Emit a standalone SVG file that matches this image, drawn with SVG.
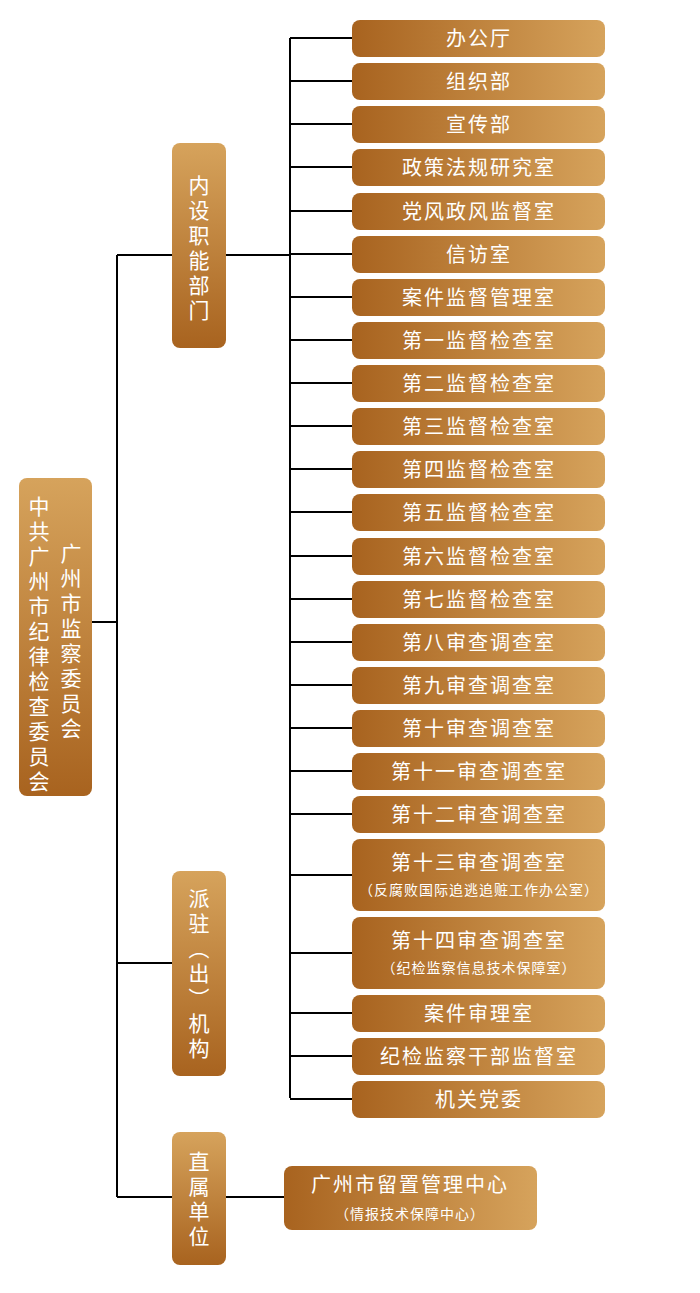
<svg xmlns="http://www.w3.org/2000/svg" width="700" height="1293" viewBox="0 0 700 1293">
<defs>
<linearGradient id="gh" x1="0" y1="0" x2="1" y2="0"><stop offset="0" stop-color="#a8631f"/><stop offset="1" stop-color="#d6a35c"/></linearGradient>
<linearGradient id="gv" x1="0" y1="0" x2="0" y2="1"><stop offset="0" stop-color="#d6a35c"/><stop offset="1" stop-color="#a8631f"/></linearGradient>
<style>
.h{fill:url(#gh)}.v{fill:url(#gv)}
text{fill:#fff;font-family:"Noto Sans CJK SC",sans-serif;text-anchor:middle}
.t{font-size:20px;letter-spacing:2px}
.s{font-size:14px;letter-spacing:1px}
.vt{font-size:21px;writing-mode:vertical-rl;letter-spacing:4px;text-anchor:start}
.c{stroke:#000;stroke-width:2;fill:none}
</style>
</defs>
<g id="connectors" class="c">
<path d="M92 622H117M117 255V1197M117 255H172M117 963H172M117 1197H172M226 255H290M226 1197H284"/>
<path d="M290 38V1098M290 38H352M290 81H352M290 124H352M290 167H352M290 211H352M290 254H352M290 297H352M290 340H352M290 383H352M290 426H352M290 469H352M290 512H352M290 556H352M290 599H352M290 642H352M290 685H352M290 728H352M290 771H352M290 814H352M290 875H352M290 953H352M290 1013H352M290 1056H352M290 1099H352"/>
</g>
<g id="root"><rect class="v" x="19" y="478" width="73" height="318" rx="8"/>
<text class="vt" x="39" y="496">中共广州市纪律检查委员会</text><text class="vt" x="71" y="543">广州市监察委员会</text></g>
<g id="n-neishe"><rect class="v" x="172" y="143" width="54" height="205" rx="8"/><text class="vt" x="199" y="175">内设职能部门</text></g>
<g id="n-paizhu"><rect class="v" x="172" y="871" width="54" height="205" rx="8"/><text class="vt" x="199" y="888">派驻（出）机构</text></g>
<g id="n-zhishu"><rect class="v" x="172" y="1132" width="54" height="133" rx="8"/><text class="vt" x="199" y="1151">直属单位</text></g>
<g id="r1"><rect class="h" x="352" y="20" width="253" height="37" rx="8"/><text class="t" x="479" y="46">办公厅</text></g>
<g id="r2"><rect class="h" x="352" y="63" width="253" height="37" rx="8"/><text class="t" x="479" y="89">组织部</text></g>
<g id="r3"><rect class="h" x="352" y="106" width="253" height="37" rx="8"/><text class="t" x="479" y="132">宣传部</text></g>
<g id="r4"><rect class="h" x="352" y="149" width="253" height="37" rx="8"/><text class="t" x="479" y="175">政策法规研究室</text></g>
<g id="r5"><rect class="h" x="352" y="193" width="253" height="37" rx="8"/><text class="t" x="479" y="219">党风政风监督室</text></g>
<g id="r6"><rect class="h" x="352" y="236" width="253" height="37" rx="8"/><text class="t" x="479" y="262">信访室</text></g>
<g id="r7"><rect class="h" x="352" y="279" width="253" height="37" rx="8"/><text class="t" x="479" y="305">案件监督管理室</text></g>
<g id="r8"><rect class="h" x="352" y="322" width="253" height="37" rx="8"/><text class="t" x="479" y="348">第一监督检查室</text></g>
<g id="r9"><rect class="h" x="352" y="365" width="253" height="37" rx="8"/><text class="t" x="479" y="391">第二监督检查室</text></g>
<g id="r10"><rect class="h" x="352" y="408" width="253" height="37" rx="8"/><text class="t" x="479" y="434">第三监督检查室</text></g>
<g id="r11"><rect class="h" x="352" y="451" width="253" height="37" rx="8"/><text class="t" x="479" y="477">第四监督检查室</text></g>
<g id="r12"><rect class="h" x="352" y="494" width="253" height="37" rx="8"/><text class="t" x="479" y="520">第五监督检查室</text></g>
<g id="r13"><rect class="h" x="352" y="538" width="253" height="37" rx="8"/><text class="t" x="479" y="564">第六监督检查室</text></g>
<g id="r14"><rect class="h" x="352" y="581" width="253" height="37" rx="8"/><text class="t" x="479" y="607">第七监督检查室</text></g>
<g id="r15"><rect class="h" x="352" y="624" width="253" height="37" rx="8"/><text class="t" x="479" y="650">第八审查调查室</text></g>
<g id="r16"><rect class="h" x="352" y="667" width="253" height="37" rx="8"/><text class="t" x="479" y="693">第九审查调查室</text></g>
<g id="r17"><rect class="h" x="352" y="710" width="253" height="37" rx="8"/><text class="t" x="479" y="736">第十审查调查室</text></g>
<g id="r18"><rect class="h" x="352" y="753" width="253" height="37" rx="8"/><text class="t" x="479" y="779">第十一审查调查室</text></g>
<g id="r19"><rect class="h" x="352" y="796" width="253" height="37" rx="8"/><text class="t" x="479" y="822">第十二审查调查室</text></g>
<g id="r20"><rect class="h" x="352" y="839" width="253" height="72" rx="8"/><text class="t" x="479" y="870">第十三审查调查室</text><text class="s" x="479" y="895">（反腐败国际追逃追赃工作办公室）</text></g>
<g id="r21"><rect class="h" x="352" y="917" width="253" height="72" rx="8"/><text class="t" x="479" y="948">第十四审查调查室</text><text class="s" x="479" y="973">（纪检监察信息技术保障室）</text></g>
<g id="r22"><rect class="h" x="352" y="995" width="253" height="37" rx="8"/><text class="t" x="479" y="1021">案件审理室</text></g>
<g id="r23"><rect class="h" x="352" y="1038" width="253" height="37" rx="8"/><text class="t" x="479" y="1064">纪检监察干部监督室</text></g>
<g id="r24"><rect class="h" x="352" y="1081" width="253" height="37" rx="8"/><text class="t" x="479" y="1107">机关党委</text></g>
<g id="r25"><rect class="h" x="284" y="1166" width="253" height="64" rx="8"/><text class="t" x="410" y="1192">广州市留置管理中心</text><text class="s" x="410" y="1219">（情报技术保障中心）</text></g>
</svg>
